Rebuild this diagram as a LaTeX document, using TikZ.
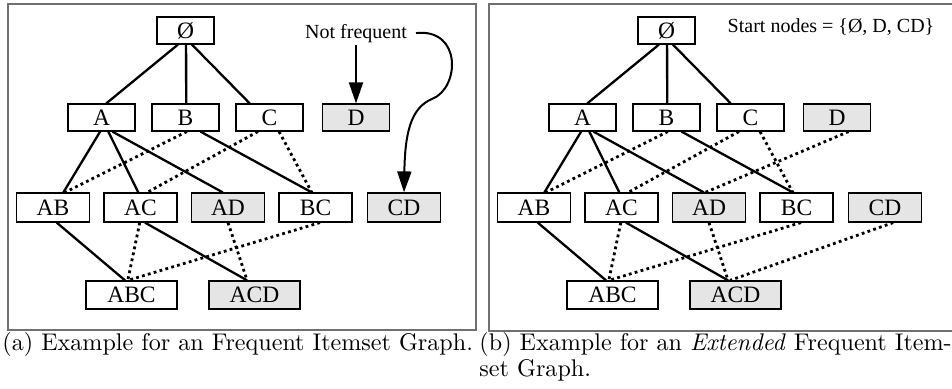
\documentclass[tikz,border=0pt]{standalone}
\usepackage{fontspec}
\newfontfamily\tms{Liberation Serif}
\usetikzlibrary{calc,arrows.meta}
\definecolor{frm}{RGB}{112,112,112}
\definecolor{gfill}{RGB}{229,229,229}
\tikzset{
  box/.style={draw=black, line width=1.2pt, inner sep=0pt, anchor=center,
    font=\tms\fontsize{23.5}{23.5}\selectfont},
  b0/.style={box, minimum width=57pt, minimum height=27pt},
  b1/.style={box, minimum width=67pt, minimum height=27pt},
  b2/.style={box, minimum width=73pt, minimum height=29pt},
  b3/.style={box, minimum width=91pt, minimum height=28pt},
  grey/.style={fill=gfill},
  solidedge/.style={line width=2.3pt},
  dotedge/.style={line width=2.8pt, dash pattern=on 2.8pt off 3.3pt},
  frame/.style={draw=frm, line width=2pt},
  note/.style={font=\tms\fontsize{20}{20}\selectfont, inner xsep=9pt, inner ysep=3pt},
  pointer/.style={line width=2pt, -{Triangle[length=21pt,width=14pt]}},
  captxt/.style={inner sep=0pt, scale=2.41, font=\fontsize{10}{12}\selectfont}
}
\newcommand\edg[5]{\draw[#1] ($(#2.south west)!#3!(#2.south east)$) -- ($(#4.north west)!#5!(#4.north east)$);}
\newcommand\drawpanel[2]{%
  \begin{scope}[xshift=#2]
    \node[b0] (#1e) at (185.5,30.5) {Ø};
    \node[b1] (#1A) at (101.5,117.5) {A};
    \node[b1] (#1B) at (185.5,117.5) {B};
    \node[b1] (#1C) at (269.5,117.5) {C};
    \node[b1,grey] (#1D) at (356,117.5) {D};
    \node[b2] (#1AB) at (53,207.5) {AB};
    \node[b2] (#1AC) at (140.5,207.5) {AC};
    \node[b2,grey] (#1AD) at (228,207.5) {AD};
    \node[b2] (#1BC) at (315.5,207.5) {BC};
    \node[b2,grey] (#1CD) at (404,207.5) {CD};
    \node[b3] (#1ABC) at (131.5,295) {ABC};
    \node[b3,grey] (#1ACD) at (254.5,295) {ACD};
  \end{scope}
  \edg{solidedge}{#1e}{.37}{#1A}{.57}
  \edg{solidedge}{#1e}{.51}{#1B}{.51}
  \edg{solidedge}{#1e}{.61}{#1C}{.21}
  \edg{solidedge}{#1A}{.48}{#1AB}{.64}
  \edg{solidedge}{#1A}{.60}{#1AC}{.47}
  \edg{solidedge}{#1A}{.66}{#1AD}{.43}
  \edg{dotedge}{#1B}{.52}{#1AB}{.66}
  \edg{solidedge}{#1B}{.72}{#1BC}{.45}
  \edg{dotedge}{#1C}{.33}{#1AC}{.59}
  \edg{dotedge}{#1C}{.64}{#1BC}{.45}
  \edg{solidedge}{#1AB}{.55}{#1ABC}{.43}
  \edg{dotedge}{#1AC}{.49}{#1ABC}{.46}
  \edg{solidedge}{#1AC}{.56}{#1ACD}{.42}
  \edg{dotedge}{#1AD}{.50}{#1ACD}{.42}
  \edg{dotedge}{#1BC}{.56}{#1ABC}{.46}
}
\begin{document}
\begin{tikzpicture}[x=1pt,y=-1pt]
  \useasboundingbox (0,0) rectangle (952,388);
  % frames
  \draw[frame] (7.5,4) rectangle (476,330);
  \draw[frame] (953,4) -- (489,4) -- (489,331) -- (953,331);
  % left panel
  \drawpanel{l}{0pt}
  \node[note, anchor=base] (nf) at (356,38) {Not frequent};
  \draw[pointer] (nf.south) -- (lD.north);
  \draw[pointer] (nf.east) .. controls (462,28) and (460,88) .. (432,99)
     .. controls (410,108) and (405,135) .. (lCD.north);
  % right panel
  \drawpanel{r}{481pt}
  \edg{dotedge}{rD}{.67}{rAD}{.45}
  \edg{dotedge}{rCD}{.61}{rACD}{.44}
  \node[note, anchor=base] (sn) at (831,32) {Start nodes = \{Ø, D, CD\}};
  % captions
  \node[captxt, anchor=base west] (capa) at (2,350) {(a) Example for an Frequent Itemset Graph.};
  \node[captxt, anchor=base west] (capb1) at (479,350) {(b) Example for an \emph{Extended} Frequent Item-};
  \node[captxt, anchor=base west] (capb2) at (479,376) {set Graph.};
\end{tikzpicture}
\end{document}
